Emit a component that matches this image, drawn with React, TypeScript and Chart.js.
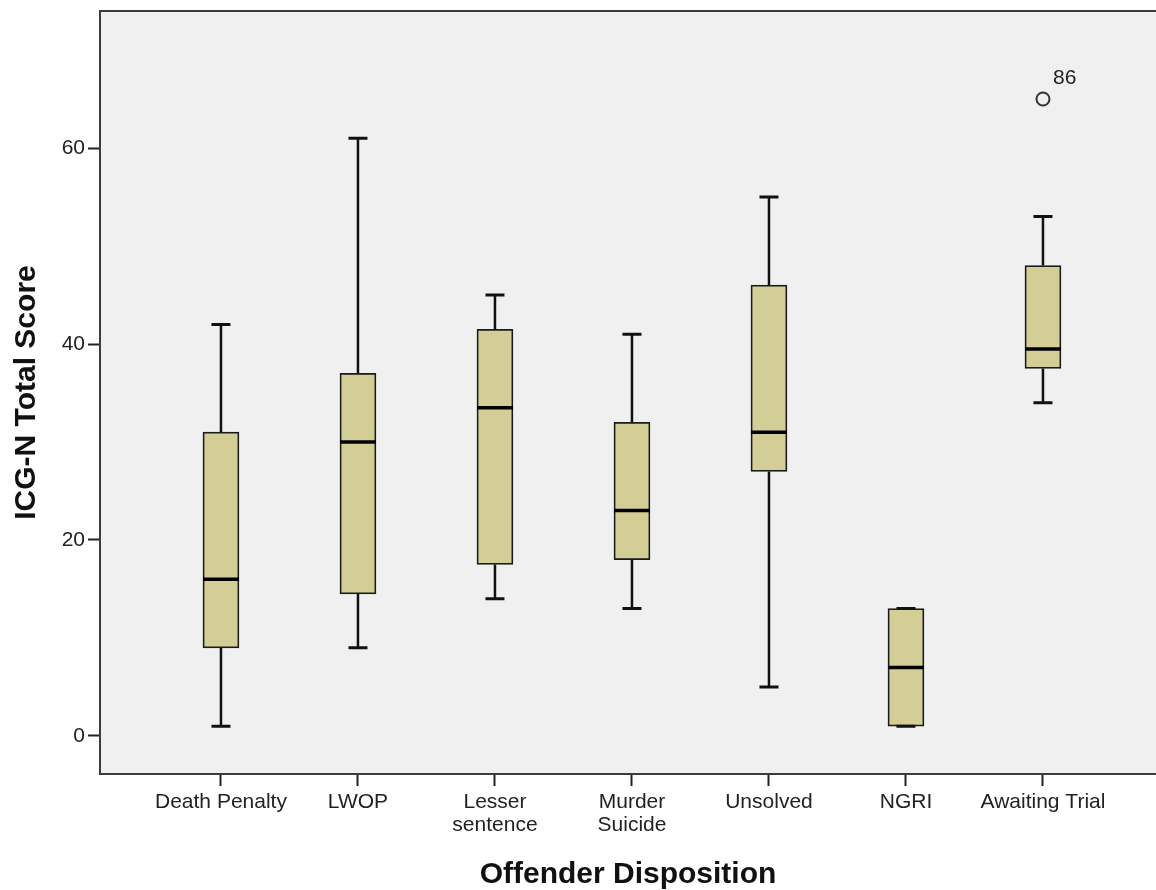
import React, { useEffect, useRef } from "react";
import { Chart, registerables } from "chart.js";

Chart.register(...registerables);

const categories: string[][] = [
  ["Death Penalty"],
  ["LWOP"],
  ["Lesser", "sentence"],
  ["Murder", "Suicide"],
  ["Unsolved"],
  ["NGRI"],
  ["Awaiting Trial"],
];
const whiskerLow = [1, 9, 14, 13, 5, 1, 34];
const q1 = [9, 14.5, 17.5, 18, 27, 1, 37.5];
const median = [16, 30, 33.5, 23, 31, 7, 39.5];
const q3 = [31, 37, 41.5, 32, 46, 13, 48];
const whiskerHigh = [42, 61, 45, 41, 55, 13, 53];
const outlierCategory = [6];
const outlierValue = [65];
const outlierLabel = ["86"];
const yTicks = [0, 20, 40, 60];

const FONT = "'Liberation Sans', Arial, sans-serif";

const boxPlugin = {
  id: "boxWhiskers",
  beforeDraw(chart: any) {
    const { ctx, chartArea } = chart;
    ctx.save();
    ctx.fillStyle = "#f0f0f0";
    ctx.fillRect(chartArea.left, chartArea.top, chartArea.right - chartArea.left, chartArea.bottom - chartArea.top);
    ctx.restore();
  },
  beforeDatasetsDraw(chart: any) {
    const { ctx } = chart;
    const xs = chart.scales.x;
    const ys = chart.scales.y;
    ctx.save();
    ctx.strokeStyle = "#111";
    ctx.lineWidth = 2.5;
    for (let i = 0; i < categories.length; i++) {
      const x = xs.getPixelForValue(i);
      ctx.beginPath();
      ctx.moveTo(x, ys.getPixelForValue(q3[i]));
      ctx.lineTo(x, ys.getPixelForValue(whiskerHigh[i]));
      ctx.moveTo(x, ys.getPixelForValue(q1[i]));
      ctx.lineTo(x, ys.getPixelForValue(whiskerLow[i]));
      ctx.stroke();
    }
    ctx.restore();
  },
  afterDatasetsDraw(chart: any) {
    const { ctx } = chart;
    const xs = chart.scales.x;
    const ys = chart.scales.y;
    ctx.save();
    for (let i = 0; i < categories.length; i++) {
      const x = xs.getPixelForValue(i);
      ctx.strokeStyle = "#111";
      ctx.lineWidth = 3;
      ctx.beginPath();
      ctx.moveTo(x - 9.5, ys.getPixelForValue(whiskerHigh[i]));
      ctx.lineTo(x + 9.5, ys.getPixelForValue(whiskerHigh[i]));
      ctx.moveTo(x - 9.5, ys.getPixelForValue(whiskerLow[i]));
      ctx.lineTo(x + 9.5, ys.getPixelForValue(whiskerLow[i]));
      ctx.stroke();
      ctx.lineWidth = 3.5;
      ctx.strokeStyle = "#000";
      ctx.beginPath();
      ctx.moveTo(x - 18, ys.getPixelForValue(median[i]));
      ctx.lineTo(x + 18, ys.getPixelForValue(median[i]));
      ctx.stroke();
    }
    ctx.fillStyle = "#222";
    ctx.font = `21px ${FONT}`;
    ctx.textAlign = "left";
    ctx.textBaseline = "middle";
    for (let k = 0; k < outlierLabel.length; k++) {
      const x = xs.getPixelForValue(outlierCategory[k]);
      const y = ys.getPixelForValue(outlierValue[k]);
      ctx.fillText(outlierLabel[k], x + 10, y - 21);
    }
    ctx.restore();
  },
  afterDraw(chart: any) {
    const { ctx, chartArea } = chart;
    ctx.save();
    ctx.strokeStyle = "#3c3c3c";
    ctx.lineWidth = 2;
    ctx.beginPath();
    ctx.moveTo(chartArea.left - 1, chartArea.top);
    ctx.lineTo(chartArea.right, chartArea.top);
    ctx.stroke();
    ctx.restore();
  },
};

export default function App() {
  const ref = useRef<HTMLCanvasElement | null>(null);
  useEffect(() => {
    if (!ref.current) return;
    const chart = new Chart(ref.current, {
      type: "bar",
      data: {
        datasets: [
          {
            type: "bar",
            data: categories.map((_, i) => ({ x: i, y: [q1[i], q3[i]] })) as any,
            backgroundColor: "#d3ce96",
            borderColor: "#1a1a1a",
            borderWidth: 1.75,
            borderSkipped: false,
            barThickness: 36,
          },
          {
            type: "scatter",
            data: outlierCategory.map((c, k) => ({ x: c, y: outlierValue[k] })),
            pointStyle: "circle",
            pointRadius: 6.5,
            pointBorderWidth: 2,
            pointBackgroundColor: "rgba(0,0,0,0)",
            pointBorderColor: "#333",
          } as any,
        ],
      },
      plugins: [boxPlugin],
      options: {
        animation: false,
        responsive: false,
        devicePixelRatio: 1,
        layout: { autoPadding: false, padding: { top: 11, left: 0, right: 0, bottom: 0 } },
        plugins: { legend: { display: false }, tooltip: { enabled: false } },
        scales: {
          x: {
            type: "linear",
            offset: false,
            min: -0.883,
            max: 6.825,
            afterBuildTicks: (s: any) => {
              s.ticks = categories.map((_, i) => ({ value: i }));
            },
            afterFit: (s: any) => {
              s.height = 116;
              s.paddingRight = 0;
              s.paddingLeft = 0;
            },
            ticks: {
              callback: (v: any) => categories[Math.round(Number(v))] ?? "",
              font: { family: FONT, size: 21, lineHeight: 1.1 },
              color: "#222",
              padding: 5,
              maxRotation: 0,
              autoSkip: false,
            },
            grid: { offset: false, drawOnChartArea: false, tickLength: 12, tickColor: "#222", tickWidth: 2 },
            border: { display: true, color: "#3c3c3c", width: 2 },
            title: {
              display: true,
              text: "Offender Disposition",
              font: { family: FONT, size: 30, weight: "bold", lineHeight: 1 },
              color: "#111",
              padding: { top: 5, bottom: 0 },
            },
          },
          y: {
            type: "linear",
            min: -3.878,
            max: 73.98,
            afterBuildTicks: (s: any) => {
              s.ticks = yTicks.map((v) => ({ value: v }));
            },
            afterFit: (s: any) => {
              s.width = 100;
              s.paddingTop = 0;
              s.paddingBottom = 0;
            },
            ticks: {
              font: { family: FONT, size: 21 },
              color: "#222",
              padding: 3,
            },
            grid: { drawOnChartArea: false, tickLength: 12, tickColor: "#222", tickWidth: 2 },
            border: { display: true, color: "#3c3c3c", width: 2 },
            title: {
              display: true,
              text: "ICG-N Total Score",
              font: { family: FONT, size: 30, weight: "bold", lineHeight: 1 },
              color: "#111",
              padding: { top: 12, bottom: 0 },
            },
          },
        },
      } as any,
    });
    return () => chart.destroy();
  }, []);
  return (
    <div style={{ position: "absolute", left: 0, top: 0, width: 1156, height: 890, background: "#fff" }}>
      <canvas ref={ref} width={1156} height={890} style={{ display: "block" }} />
    </div>
  );
}
